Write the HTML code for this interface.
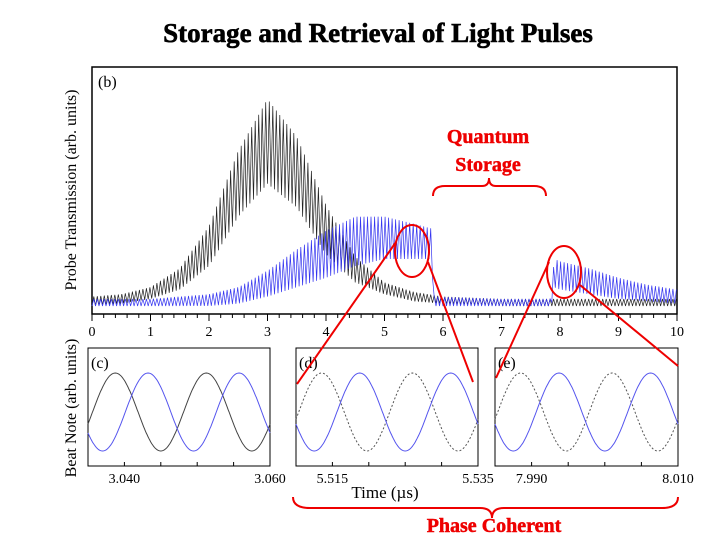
<!DOCTYPE html>
<html><head><meta charset="utf-8"><style>
html,body{margin:0;padding:0;background:#fff;}
svg{display:block;font-family:"Liberation Serif",serif;}
</style></head><body>
<svg id="c" width="720" height="540" viewBox="0 0 720 540">
<text x="378" y="42" text-anchor="middle" font-size="27" font-weight="bold" stroke="#000" stroke-width="0.6">Storage and Retrieval of Light Pulses</text>
<rect x="92" y="67" width="585" height="247" fill="none" stroke="#000" stroke-width="1.5"/>
<text x="98" y="87" font-size="16">(b)</text>
<text transform="translate(76,190) rotate(-90)" text-anchor="middle" font-size="16">Probe Transmission (arb. units)</text>
<text transform="translate(76,408) rotate(-90)" text-anchor="middle" font-size="16">Beat Note (arb. units)</text>
<text x="385" y="498" text-anchor="middle" font-size="17">Time (µs)</text>
<g id="main"></g>
<g id="subs"></g>
<g fill="none" stroke="#e00" stroke-width="2">
<ellipse cx="412" cy="251" rx="17" ry="26"/>
<ellipse cx="564" cy="272" rx="17" ry="26"/>
<line x1="396" y1="242" x2="297" y2="384"/>
<line x1="428" y1="262" x2="473" y2="382"/>
<line x1="549" y1="262" x2="496" y2="378"/>
<line x1="580" y1="285" x2="678" y2="366"/>
<path d="M433,196 Q433,186 445,186 L482,186 Q489,186 489,178 Q489,186 496,186 L534,186 Q546,186 546,196"/>
<path d="M293,497 Q293,508 310,508 L480,508 Q492,508 492,518 Q492,508 504,508 L662,508 Q678,508 678,497"/>
</g>
<text x="488" y="143" text-anchor="middle" font-size="20" font-weight="bold" fill="#e00" stroke="#e00" stroke-width="0.5">Quantum</text>
<text x="488" y="171" text-anchor="middle" font-size="20" font-weight="bold" fill="#e00" stroke="#e00" stroke-width="0.5">Storage</text>
<text x="494" y="532" text-anchor="middle" font-size="20" font-weight="bold" fill="#e00" stroke="#e00" stroke-width="0.5">Phase Coherent</text>
</svg>
<script>
// main plot data (time in µs, amplitude fraction of axis)
const blackT = [0,0.5,1,1.5,2,2.5,3,3.5,4,4.5,5,5.5,6,7,8,9,10];
const blackHi = [0.04,0.05,0.08,0.16,0.34,0.66,0.88,0.72,0.43,0.21,0.10,0.06,0.04,0.03,0.03,0.03,0.03];
const blackLo = [0,0.01,0.03,0.07,0.17,0.38,0.52,0.42,0.22,0.10,0.05,0.02,0.01,0,0,0,0];
const blueT = [0,1,2,2.5,3,3.5,4,4.5,5,5.5,5.8,5.85,7,7.85,7.9,8,8.5,9,9.5,10];
const blueHi = [0.03,0.03,0.05,0.08,0.15,0.24,0.32,0.38,0.38,0.35,0.33,0.04,0.03,0.03,0.20,0.19,0.16,0.12,0.09,0.07];
const blueLo = [0,0,0,0.01,0.04,0.08,0.12,0.17,0.20,0.20,0.20,0,0,0,0.08,0.07,0.05,0.03,0.02,0.01];
const xTicks = [0,1,2,3,4,5,6,7,8,9,10];
// beat-note panels: phase of peak (fraction of window), 2 cycles per window
const panelNames = ["c","d","e"];
const panelRefPeak = [0.15,0.14,0.14];
const panelSigPeak = [0.33,0.35,0.35];
const panelTickLo = ["3.040","5.515","7.990"];
const panelTickHi = ["3.060","5.535","8.010"];
const NS="http://www.w3.org/2000/svg";
const X0=92,X1=677,Y0=306,YH=235;
const xs=t=>X0+(X1-X0)*t/10, ys=v=>Y0-v*YH;
function interp(T,V,t){for(let i=0;i<T.length-1;i++){if(t<=T[i+1]){const f=(t-T[i])/(T[i+1]-T[i]);return V[i]+f*(V[i+1]-V[i]);}}return V[V.length-1];}
function mk(tag,attrs,parent){const e=document.createElementNS(NS,tag);for(const k in attrs)e.setAttribute(k,attrs[k]);parent.appendChild(e);return e;}
const main=document.getElementById('main');
function trace(T,Hi,Lo,color,name){let d="";let k=0;for(let t=0;t<=10.0001;t+=0.03,k++){const v=(k%2?interp(T,Hi,t):interp(T,Lo,t));d+=(k?"L":"M")+xs(t).toFixed(1)+","+ys(v).toFixed(1);}
const p=mk('path',{d:d,fill:'none',stroke:color,'stroke-width':0.7},main);

}
trace(blackT,blackHi,blackLo,'#222','reference-pulse-trace');
trace(blueT,blueHi,blueLo,'#3535f0','stored-pulse-trace');
for(let i=0;i<=50;i++){const x=xs(i*0.2);const major=i%5===0;
const l=mk('line',{x1:x,x2:x,y1:314,y2:major?321:318,stroke:'#000','stroke-width':1},main);

}
xTicks.forEach(v=>{const t=mk('text',{x:xs(v),y:336,'text-anchor':'middle','font-size':14},main);t.textContent=v;

});
// panels
const subs=document.getElementById('subs');
const PX=[88,296,495],PW=[182,182,183],PT=348,PB=466,cy=412,amp=39;
panelNames.forEach((n,i)=>{const g=mk('g',{},subs);


const r=mk('rect',{x:PX[i],y:PT,width:PW[i],height:PB-PT,fill:'none',stroke:'#000','stroke-width':1},g);


function wave(peak,color,dash,name){let d="";for(let s=0;s<=200;s++){const f=s/200;const v=Math.cos(2*Math.PI*2*(f-peak));d+=(s?"L":"M")+(PX[i]+f*PW[i]).toFixed(1)+","+(cy-amp*v).toFixed(1);}
const p=mk('path',{d:d,fill:'none',stroke:color,'stroke-width':1,'stroke-dasharray':dash},g);

}
wave(panelRefPeak[i],i?'#555':'#444',i?'2,2':'none','reference-wave');
wave(panelSigPeak[i],'#5555ee','none','signal-wave');
for(let k=0;k<=5;k++){const x=PX[i]+PW[i]*k/5;
const l=mk('line',{x1:x,x2:x,y1:PB,y2:PB-4,stroke:'#000'},g);

}
const a=mk('text',{x:PX[i]+PW[i]*0.2,y:483,'text-anchor':'middle','font-size':14},g);a.textContent=panelTickLo[i];


const b=mk('text',{x:PX[i]+PW[i],y:483,'text-anchor':'middle','font-size':14},g);b.textContent=panelTickHi[i];


const lb=mk('text',{x:PX[i]+3,y:PT+20,'font-size':16},g);lb.textContent='('+n+')';


});
</script>
</body></html>
